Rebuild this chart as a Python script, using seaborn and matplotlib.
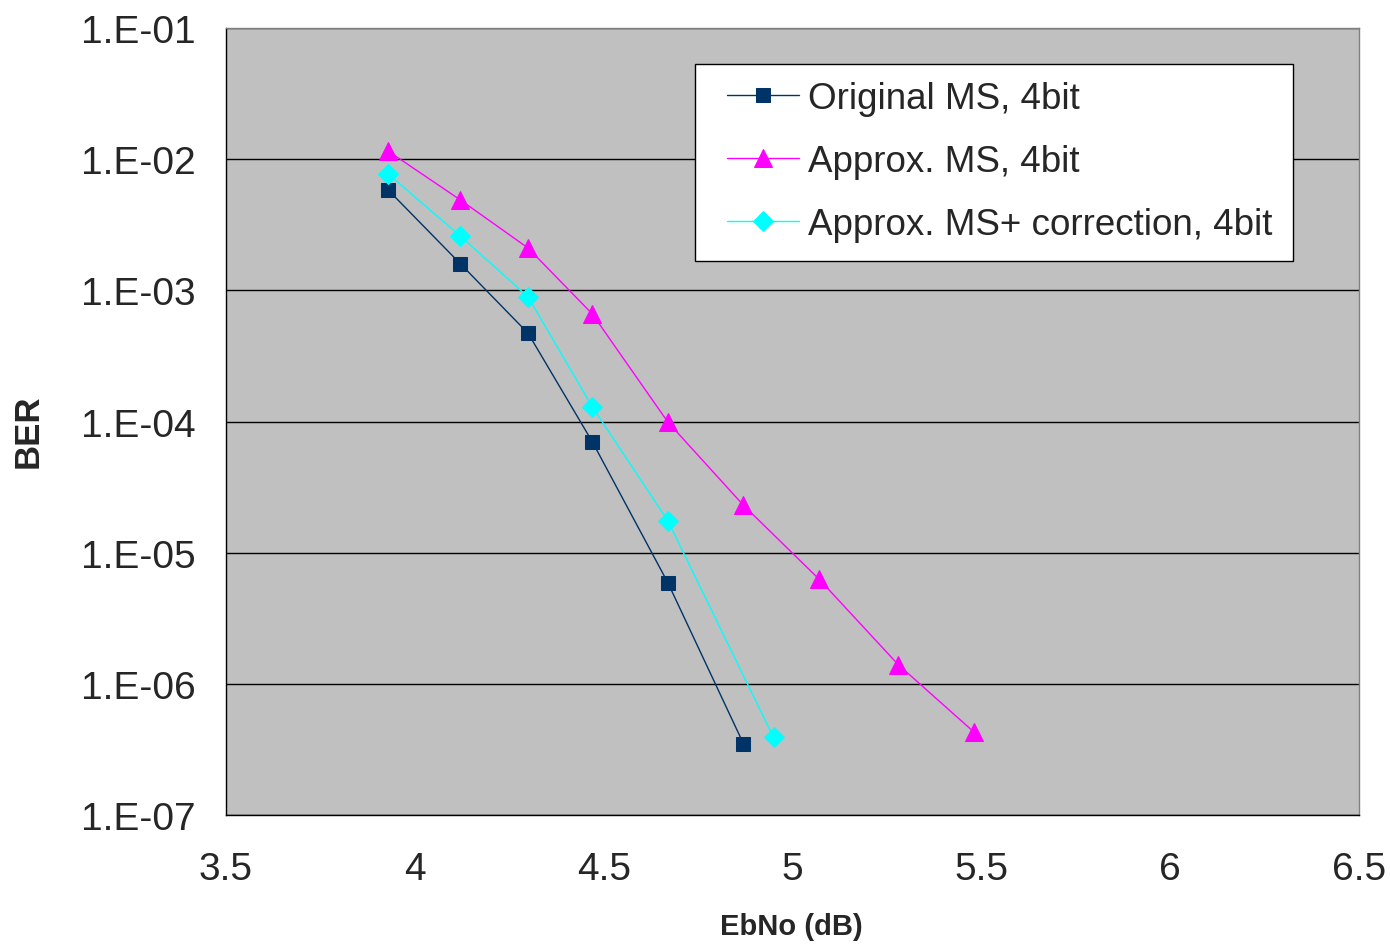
import matplotlib
matplotlib.use("Agg")
import matplotlib.pyplot as plt
import seaborn as sns
import pandas as pd
from matplotlib.patches import Rectangle
from matplotlib.ticker import FixedLocator, NullLocator

# data
ebno_orig = [3.93, 4.12, 4.30, 4.47, 4.67, 4.87]
ber_orig = [5.8e-3, 1.6e-3, 4.7e-4, 7.0e-5, 5.9e-6, 3.5e-7]

ebno_approx = [3.93, 4.12, 4.30, 4.47, 4.67, 4.87, 5.07, 5.28, 5.48]
ber_approx = [1.15e-2, 4.9e-3, 2.1e-3, 6.6e-4, 9.9e-5, 2.3e-5, 6.3e-6, 1.4e-6, 4.3e-7]

ebno_corr = [3.93, 4.12, 4.30, 4.47, 4.67, 4.95]
ber_corr = [7.7e-3, 2.6e-3, 8.9e-4, 1.29e-4, 1.75e-5, 3.9e-7]

labels = ["Original MS, 4bit", "Approx. MS, 4bit", "Approx. MS+ correction, 4bit"]
colors = ["#003366", "#FF00FF", "#00FFFF"]
markers = ["s", "^", "D"]
msizes = [10, 13, 10]

y_ticks = [1e-1, 1e-2, 1e-3, 1e-4, 1e-5, 1e-6, 1e-7]
y_ticklabels = ["1.E-01", "1.E-02", "1.E-03", "1.E-04", "1.E-05", "1.E-06", "1.E-07"]
x_ticks = [3.5, 4, 4.5, 5, 5.5, 6, 6.5]
x_ticklabels = ["3.5", "4", "4.5", "5", "5.5", "6", "6.5"]

sns.set_style("white")
plt.rcParams["font.family"] = ["Liberation Sans", "DejaVu Sans"]

fig = plt.figure(figsize=(13.9, 9.45), dpi=100)
ax = fig.add_axes([226 / 1390, 1 - 816 / 945, 1133 / 1390, 787 / 945])
ax.set_facecolor("#C0C0C0")

series = [(ebno_orig, ber_orig), (ebno_approx, ber_approx), (ebno_corr, ber_corr)]
for (xs, ys), lab, col, mk, ms in zip(series, labels, colors, markers, msizes):
    df = pd.DataFrame({"EbNo": xs, "BER": ys})
    sns.lineplot(data=df, x="EbNo", y="BER", ax=ax, color=col, marker=mk,
                 markersize=ms, markeredgecolor=col, linewidth=1, label=lab,
                 sort=False, zorder=3)

ax.set_yscale("log")
ax.set_ylim(1e-7, 1e-1)
ax.set_xlim(3.5, 6.5)
ax.yaxis.set_major_locator(FixedLocator(y_ticks))
ax.yaxis.set_minor_locator(NullLocator())
ax.set_yticklabels(y_ticklabels)
ax.set_xticks(x_ticks)
ax.set_xticklabels(x_ticklabels)

ax.grid(axis="y", color="black", linewidth=1)
ax.grid(axis="x", visible=False)
ax.set_axisbelow(True)

ax.tick_params(axis="both", direction="out", length=10, width=1, color="black",
               labelsize=28)
ax.tick_params(axis="x", pad=16)
ax.tick_params(axis="y", pad=12)

for s in ["top", "right"]:
    ax.spines[s].set_color("#808080")
    ax.spines[s].set_linewidth(1)
for s in ["left", "bottom"]:
    ax.spines[s].set_color("black")
    ax.spines[s].set_linewidth(1)
    ax.spines[s].set_visible(True)

ax.set_xlabel("EbNo (dB)", fontsize=21, fontweight="bold", va="top")
ax.xaxis.set_label_coords((791 - 226) / 1133, (816 - 913) / 787)
ax.set_ylabel("BER", fontsize=25, fontweight="bold")
ax.yaxis.set_label_coords((45 - 226) / 1133, (816 - 431) / 787)

# legend frame drawn as a patch so the padding can match the reference
frame = Rectangle(((695 - 226) / 1133, (816 - 262) / 787), 598 / 1133, 197 / 787,
                  transform=ax.transAxes, facecolor="white", edgecolor="black",
                  linewidth=1, zorder=4.5)
ax.add_patch(frame)
leg = ax.legend(loc="upper left", bbox_to_anchor=((727 - 226) / 1133, (816 - 82) / 787),
                fontsize=26.5, frameon=False, handlelength=1.95, handletextpad=0.25,
                labelspacing=0.76, borderpad=0, borderaxespad=0)
leg.set_zorder(5)

plt.savefig("out.png", dpi=100)
plt.close()
